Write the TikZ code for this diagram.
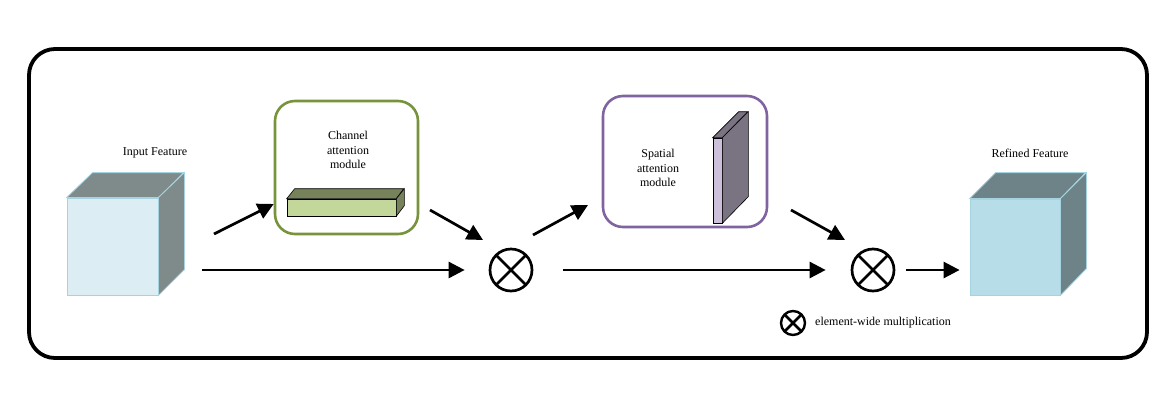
\documentclass[tikz,border=0pt]{standalone}
\usepackage{fontspec}
\setmainfont{Liberation Serif}
\usetikzlibrary{positioning,arrows.meta}
\definecolor{chgreen}{HTML}{77933C}
\definecolor{sppurple}{HTML}{8064A2}
\definecolor{inpfront}{HTML}{DCEEF4}
\definecolor{inpdark}{HTML}{7F8B8B}
\definecolor{outfront}{HTML}{B7DDE8}
\definecolor{outdark}{HTML}{6E8388}
\definecolor{cubeedge}{HTML}{A5D3E0}
\definecolor{barfront}{HTML}{C4D79B}
\definecolor{bardark}{HTML}{76835A}
\definecolor{slabfront}{HTML}{CCC0DA}
\definecolor{slabdark}{HTML}{7A7382}

\begin{document}
\begin{tikzpicture}[x=1pt,y=-1pt,
	flow/.style={-{Triangle[length=16pt,width=16pt]},line width=2.7pt},
	module/.style={draw,rounded corners=20pt,line width=2.6pt,inner sep=0pt},
	mult/.style={circle,draw,line width=2.7pt,minimum size=42pt,inner sep=0pt,
		path picture={\draw[line width=2.7pt] (path picture bounding box.north west) -- (path picture bounding box.south east)
			(path picture bounding box.north east) -- (path picture bounding box.south west);}},
	lbl/.style={font=\fontsize{12}{14.5}\selectfont,align=center,inner sep=0pt},
	face/.style={draw=cubeedge,line width=0.8pt,inner sep=0pt}]
	\useasboundingbox (0,0) rectangle (1173,400);
	% frame
	\draw[line width=3.8pt,rounded corners=26pt] (29,49) rectangle (1147,358);
	
	% input feature
	\node[face,fill=inpfront,minimum width=91pt,minimum height=97pt] (inp) at (112.5,246.5) {};
	\filldraw[draw=cubeedge,fill=inpdark,line width=0.8pt] (inp.north west) -- ++(26,-25) -- ++(91,0) -- (inp.north east) -- cycle;
	\filldraw[draw=cubeedge,fill=inpdark,line width=0.8pt] (inp.north east) -- ++(26,-25) -- ++(0,97) -- (inp.south east) -- cycle;
	\node[lbl] (inplbl) at (155,153) {Input Feature};
	
	% channel attention
	\node[module,draw=chgreen,minimum width=143pt,minimum height=133pt] (chan) at (346.5,167.5) {};
	\node[lbl] (chanlbl) at (348,150) {Channel\\attention\\module};
	\node[draw,fill=barfront,line width=0.6pt,minimum width=109pt,minimum height=17pt,inner sep=0pt] (bar) at (341.5,207.5) {};
	\filldraw[fill=bardark,line width=0.6pt] (bar.north west) -- ++(8,-10) -- ++(109,0) -- (bar.north east) -- cycle;
	\filldraw[fill=bardark,line width=0.6pt] (bar.north east) -- ++(8,-10) -- ++(0,17) -- (bar.south east) -- cycle;
	
	% spatial attention
	\node[module,draw=sppurple,minimum width=164pt,minimum height=131pt] (spat) at (685,161.5) {};
	\node[lbl] (spatlbl) at (658,168) {Spatial\\attention\\module};
	\node[draw,fill=slabfront,line width=0.6pt,minimum width=9pt,minimum height=85pt,inner sep=0pt] (slab) at (717.5,180.5) {};
	\filldraw[fill=slabdark,line width=0.6pt] (slab.north west) -- ++(26,-26) -- ++(9,0) -- (slab.north east) -- cycle;
	\filldraw[fill=slabdark,line width=0.6pt] (slab.north east) -- ++(26,-26) -- ++(0,85) -- (slab.south east) -- cycle;
	
	% refined feature
	\node[face,fill=outfront,minimum width=90pt,minimum height=96pt] (out) at (1015,247) {};
	\filldraw[draw=cubeedge,fill=outdark,line width=0.8pt] (out.north west) -- ++(26,-26) -- ++(90,0) -- (out.north east) -- cycle;
	\filldraw[draw=cubeedge,fill=outdark,line width=0.8pt] (out.north east) -- ++(26,-26) -- ++(0,96) -- (out.south east) -- cycle;
	\node[lbl] (outlbl) at (1030,153) {Refined Feature};
	
	% multiplications
	\node[mult] (m1) at (511,270) {};
	\node[mult] (m2) at (873,270) {};
	
	% connectors
	\coordinate (c1) at (214,234);
	\coordinate (c2) at (202,270);
	\coordinate (c3) at (430,210);
	\coordinate (c3e) at (483,240);
	\coordinate (c4) at (533,235);
	\coordinate (c4e) at (588,205);
	\coordinate (c5) at (791,210);
	\coordinate (c5e) at (845,240);
	\coordinate (c6) at (563,270);
	\draw[flow] (c1) -- (chan);
	\draw[flow,shorten >=24pt] (c2) -- (m1);
	\draw[flow] (c3) -- (c3e);
	\draw[flow] (c4) -- (c4e);
	\draw[flow] (c5) -- (c5e);
	\draw[flow,shorten >=25pt] (c6) -- (m2);
	\draw[flow,shorten <=11pt,shorten >=10pt] (m2.east) -- (m2.east -| out.west);
	
	% legend
	\node[mult,minimum size=24pt,line width=2.4pt] (leg) at (793,323) {};
	\node[lbl,anchor=west] (leglbl) at (815,323) {element-wide multiplication};
\end{tikzpicture}
\end{document}
